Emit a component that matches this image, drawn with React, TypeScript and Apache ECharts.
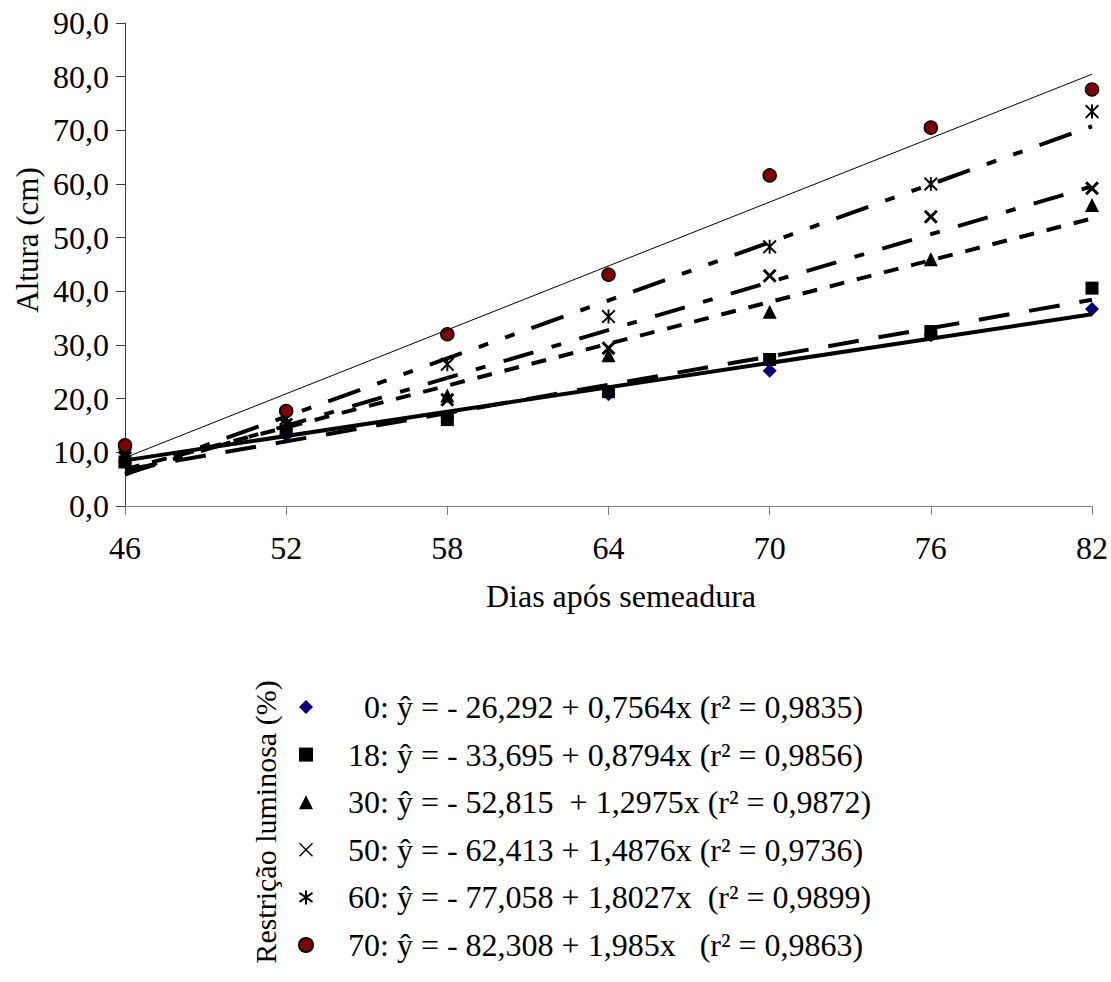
import React, { useEffect, useRef } from "react";
import * as echarts from "echarts";

// ---- data ----
const days = ["46", "52", "58", "64", "70", "76", "82"];
const restriction = ["0", "18", "30", "50", "60", "70"];

const h0 = [10.0, 13.2, 16.6, 20.8, 25.2, 31.8, 36.7];
const h18 = [8.2, 14.0, 16.1, 21.3, 27.3, 32.5, 40.6];
const h30 = [8.6, 14.6, 20.6, 28.1, 36.2, 46.0, 56.1];
const h50 = [9.0, 15.2, 19.8, 29.4, 42.9, 53.9, 59.2];
const h60 = [9.5, 16.3, 26.4, 35.3, 48.3, 60.0, 73.5];
const h70 = [11.3, 17.7, 32.0, 43.1, 61.6, 70.5, 77.6];

// fitted values of the regression lines at the first and last day
const fitStart = [8.5, 6.76, 6.87, 6.02, 5.87, 9.0];
const fitEnd = [35.73, 38.42, 53.58, 59.57, 70.76, 80.46];

const equations = [
  " ŷ = - 26,292 + 0,7564x (r² = 0,9835)",
  " ŷ = - 33,695 + 0,8794x (r² = 0,9856)",
  " ŷ = - 52,815  + 1,2975x (r² = 0,9872)",
  " ŷ = - 62,413 + 1,4876x (r² = 0,9736)",
  " ŷ = - 77,058 + 1,8027x  (r² = 0,9899)",
  " ŷ = - 82,308 + 1,985x   (r² = 0,9863)",
];

const yTicks = ["0,0", "10,0", "20,0", "30,0", "40,0", "50,0", "60,0", "70,0", "80,0", "90,0"];

const FONT = "'Liberation Serif', 'Times New Roman', serif";

const X_PLOT =
  "path://M0,1.5 L1.5,0 L5,3.5 L8.5,0 L10,1.5 L6.5,5 L10,8.5 L8.5,10 L5,6.5 L1.5,10 L0,8.5 L3.5,5 Z";
const X_LEG =
  "path://M0,0.7 L0.7,0 L5,4.3 L9.3,0 L10,0.7 L5.7,5 L10,9.3 L9.3,10 L5,5.7 L0.7,10 L0,9.3 L4.3,5 Z";
const STAR_PLOT =
  "path://M4.3,0 L5.7,0 L5.7,10 L4.3,10 Z M0,1 L1,0 L10,9 L9,10 Z M10,1 L1,10 L0,9 L9,0 Z";
const STAR_LEG =
  "path://M4.3,0 L5.7,0 L5.7,10 L4.3,10 Z M0,2.4 L0.7,1.2 L10,7.6 L9.3,8.8 Z M10,2.4 L0.7,8.8 L0,7.6 L9.3,1.2 Z";

export default function App() {
  const ref = useRef<HTMLDivElement>(null);

  useEffect(() => {
    if (!ref.current) return;
    const chart = echarts.init(ref.current, null, { renderer: "svg" });

    const heights = [h0, h18, h30, h50, h60, h70];
    const markers = [
      { symbol: "diamond", size: 14, color: "#000080", border: "#000080", bw: 0 },
      { symbol: "rect", size: 13, color: "#000000", border: "#000000", bw: 0 },
      { symbol: "triangle", size: 14, color: "#000000", border: "#000000", bw: 0 },
      { symbol: X_PLOT, size: 14, color: "#000000", border: "#000000", bw: 0 },
      { symbol: STAR_PLOT, size: 14, color: "#000000", border: "#000000", bw: 0 },
      { symbol: "circle", size: 13, color: "#800000", border: "#000000", bw: 1.5 },
    ];
    const legendIcons = ["diamond", "rect", "triangle", X_LEG, STAR_LEG, "circle"];
    const lineStyles: any[] = [
      { width: 4, type: "solid" },
      { width: 4, type: [31, 20] },
      { width: 4, type: [15, 13] },
      { width: 4, type: [31, 19, 10, 19] },
      { width: 4, type: [34, 18, 10, 18, 10, 18] },
      { width: 1, type: "solid" },
    ];

    const scatterSeries = restriction.map((r, i) => ({
      name: r,
      type: "scatter",
      symbol: markers[i].symbol,
      symbolSize: markers[i].size,
      itemStyle: {
        color: markers[i].color,
        borderColor: markers[i].border,
        borderWidth: markers[i].bw,
        opacity: 1,
      },
      emphasis: { disabled: true },
      data: days.map((d, j) => [d, heights[i][j]]),
      z: 2,
    }));

    const lineSeries = restriction.map((r, i) => ({
      name: "fit" + r,
      type: "line",
      showSymbol: false,
      symbol: "none",
      lineStyle: { color: "#000000", width: lineStyles[i].width, type: lineStyles[i].type, cap: "butt" },
      data: [
        [days[0], fitStart[i]],
        [days[days.length - 1], fitEnd[i]],
      ],
      z: 3,
    }));

    const serifRich = (size: number) => ({
      s: { fontFamily: FONT, fontSize: size, lineHeight: size, color: "#000" },
    });

    chart.setOption({
      animation: false,
      backgroundColor: "#ffffff",
      textStyle: { fontFamily: FONT, color: "#000" },
      grid: { left: 125, right: 19, top: 23, bottom: 476 },
      xAxis: {
        type: "category",
        data: days,
        boundaryGap: false,
        axisLine: { lineStyle: { color: "#808080", width: 1 } },
        axisTick: { show: true, length: 9, alignWithLabel: true, lineStyle: { color: "#808080" } },
        axisLabel: {
          fontFamily: FONT,
          fontSize: 32,
          color: "#000",
          margin: 26,
          formatter: (v: string) => `{s|${v}}`,
          rich: serifRich(32),
        },
        splitLine: { show: false },
      },
      yAxis: {
        type: "value",
        min: 0,
        max: 90,
        interval: 10,
        axisLine: { show: true, lineStyle: { color: "#404040", width: 1 } },
        axisTick: { show: true, length: 9, lineStyle: { color: "#404040" } },
        axisLabel: {
          fontFamily: FONT,
          fontSize: 32,
          color: "#000",
          margin: 16,
          formatter: (v: number) => `{s|${yTicks[Math.round(v / 10)]}}`,
          rich: serifRich(32),
        },
        splitLine: { show: false },
      },
      legend: {
        orient: "vertical",
        left: 298,
        top: 691,
        padding: 0,
        itemWidth: 14,
        itemHeight: 14,
        itemGap: 15.6,
        selectedMode: false,
        data: restriction.map((r, i) => ({ name: r, icon: legendIcons[i] })),
        formatter: (name: string) => {
          const idx = restriction.indexOf(name);
          const label = name.length < 2 ? "\u2007" + name : name;
          return `{n|${label}:}{e|${equations[idx]}}`;
        },
        textStyle: {
          fontFamily: FONT,
          fontSize: 32,
          color: "#000",
          rich: {
            n: { fontFamily: FONT, fontSize: 32, lineHeight: 32, color: "#000", padding: [0, 0, 0, 30] },
            e: { fontFamily: FONT, fontSize: 32, lineHeight: 32, color: "#000" },
          },
        },
      },
      graphic: [
        {
          type: "text",
          x: 27,
          y: 240,
          rotation: Math.PI / 2,
          style: {
            text: "{s|Altura (cm)}",
            rich: serifRich(31),
            fontFamily: FONT,
            fontSize: 31,
            fill: "#000",
            align: "center",
            verticalAlign: "middle",
          },
        },
        {
          type: "text",
          x: 621,
          y: 596,
          style: {
            text: "{s|Dias após semeadura}",
            rich: serifRich(32),
            fontFamily: FONT,
            fontSize: 32,
            fill: "#000",
            align: "center",
            verticalAlign: "middle",
          },
        },
        {
          type: "text",
          x: 265,
          y: 822,
          rotation: Math.PI / 2,
          style: {
            text: "{s|Restrição luminosa (%)}",
            rich: serifRich(30),
            fontFamily: FONT,
            fontSize: 30,
            fill: "#000",
            align: "center",
            verticalAlign: "middle",
          },
        },
      ],
      series: [...scatterSeries, ...lineSeries],
    });

    return () => chart.dispose();
  }, []);

  return (
    <div
      ref={ref}
      style={{ position: "fixed", left: 0, top: 0, width: 1111, height: 982, background: "#fff" }}
    />
  );
}
